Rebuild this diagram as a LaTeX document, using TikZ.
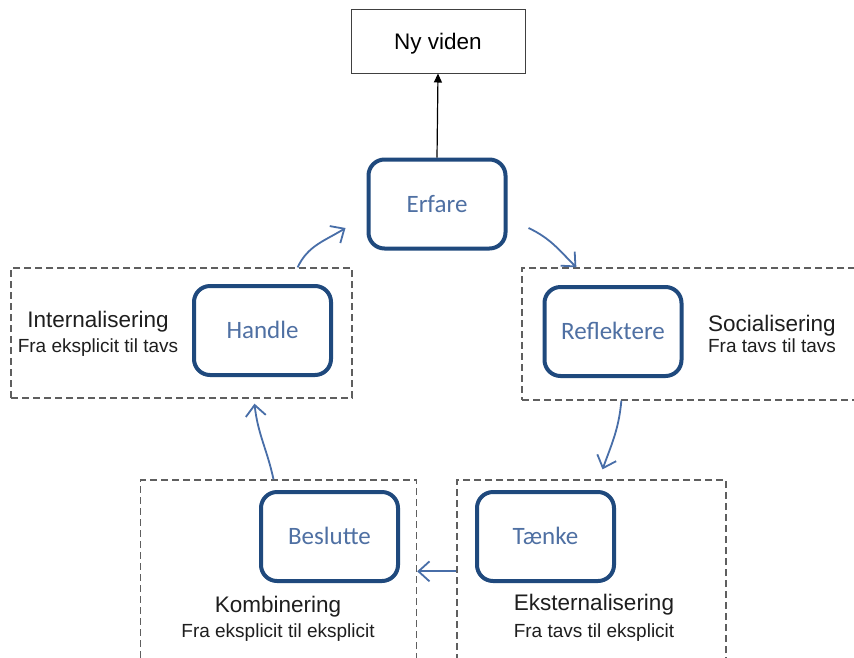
\documentclass[tikz,border=0pt]{standalone}
\usepackage{fontspec}
\setmainfont{Liberation Sans}
\newfontfamily\calib{Carlito}
\usetikzlibrary{arrows.meta}
\definecolor{boxblue}{RGB}{31,73,125}
\definecolor{txtblue}{RGB}{79,112,163}
\definecolor{arrblue}{RGB}{72,110,168}
\definecolor{dashgray}{RGB}{95,95,95}
\definecolor{labgray}{RGB}{30,30,30}
\begin{document}
\begin{tikzpicture}[x=1pt,y=1pt,
  stagebox/.style={draw=boxblue, line width=4pt, rounded corners=16pt,
    minimum width=137pt, minimum height=89pt, inner sep=0pt,
    font=\calib\fontsize{25}{29}\selectfont, text=txtblue,
    text height=16pt, text depth=0pt},
  groupbox/.style={draw=dashgray, line width=1.3pt, dash pattern=on 7pt off 4pt, inner sep=0pt},
  titletext/.style={font=\fontsize{22.5}{26}\selectfont, text=labgray, anchor=base, inner sep=0pt},
  subtext/.style={font=\fontsize{19}{22}\selectfont, text=labgray, anchor=base, inner sep=0pt},
  flow/.style={draw=arrblue, line width=1.8pt, -{Straight Barb[length=11pt,width=20pt,line width=1.8pt]}}
]
\useasboundingbox (0,0) rectangle (854,-657);
\fill[white] (0,0) rectangle (854,-657);
\clip (0,0) rectangle (854,-657);

% dashed group boxes
\node[groupbox, minimum width=341pt, minimum height=130pt] (gl) at (181.5,-333) {};
\node[groupbox, minimum width=348pt, minimum height=132pt] (gr) at (696,-334) {};
\node[groupbox, minimum width=276pt, minimum height=190pt] (gbl) at (278.5,-575) {};
\node[groupbox, minimum width=269pt, minimum height=190pt] (gbr) at (591.5,-575) {};

% new knowledge box
\node[draw=black!75, line width=1pt, minimum width=174pt, minimum height=64pt, inner sep=0pt,
  font=\fontsize{22.5}{26}\selectfont, text height=16pt, text depth=0pt] (ny) at (438,-41) {Ny viden};

% stage boxes
\node[stagebox] (erf) at (437,-204) {Erfare};
\node[stagebox] (han) at (262.5,-330.5) {Handle};
\node[stagebox] (ref) at (613,-331.5) {Reflektere};
\node[stagebox] (bes) at (329.5,-536.5) {Beslutte};
\node[stagebox] (taen) at (545.5,-536.5) {Tænke};

% labels
\node[titletext] (tint) at (98,-327) {Internalisering};
\node[subtext] (sint) at (98,-352) {Fra eksplicit til tavs};
\node[titletext] (tsoc) at (772,-331) {Socialisering};
\node[subtext] (ssoc) at (772,-352) {Fra tavs til tavs};
\node[titletext] (tkom) at (278,-612) {Kombinering};
\node[subtext] (skom) at (278,-637) {Fra eksplicit til eksplicit};
\node[titletext] (teks) at (594,-610) {Eksternalisering};
\node[subtext] (seks) at (594,-637) {Fra tavs til eksplicit};

% connectors
\draw[black, line width=1.2pt, -{Triangle[length=9pt,width=8pt]}] (erf.north) -- (ny.south);

\coordinate (e1) at ([xshift=-21pt,yshift=-24pt]erf.west);
\coordinate (e2) at ([xshift=21pt,yshift=-24pt]erf.east);
\coordinate (e3) at ([xshift=11pt,yshift=10pt]gbr.north);

\draw[flow] ([xshift=-55pt]gl.north east) to[out=65,in=212] (e1);
\draw[flow] (e2) to[out=-25,in=135] ([xshift=55pt]gr.north west);
\draw[flow] ([xshift=100pt]gr.south west) to[out=-95,in=70] (e3);
\draw[flow] ([yshift=-92pt]gbr.north west) -- ([yshift=-92pt]gbl.north east);
\draw[flow] ([xshift=-5pt]gbl.north) to[out=102,in=-84] ([xshift=-8pt,yshift=-5pt]gl.south -| han.north);
\end{tikzpicture}
\end{document}
